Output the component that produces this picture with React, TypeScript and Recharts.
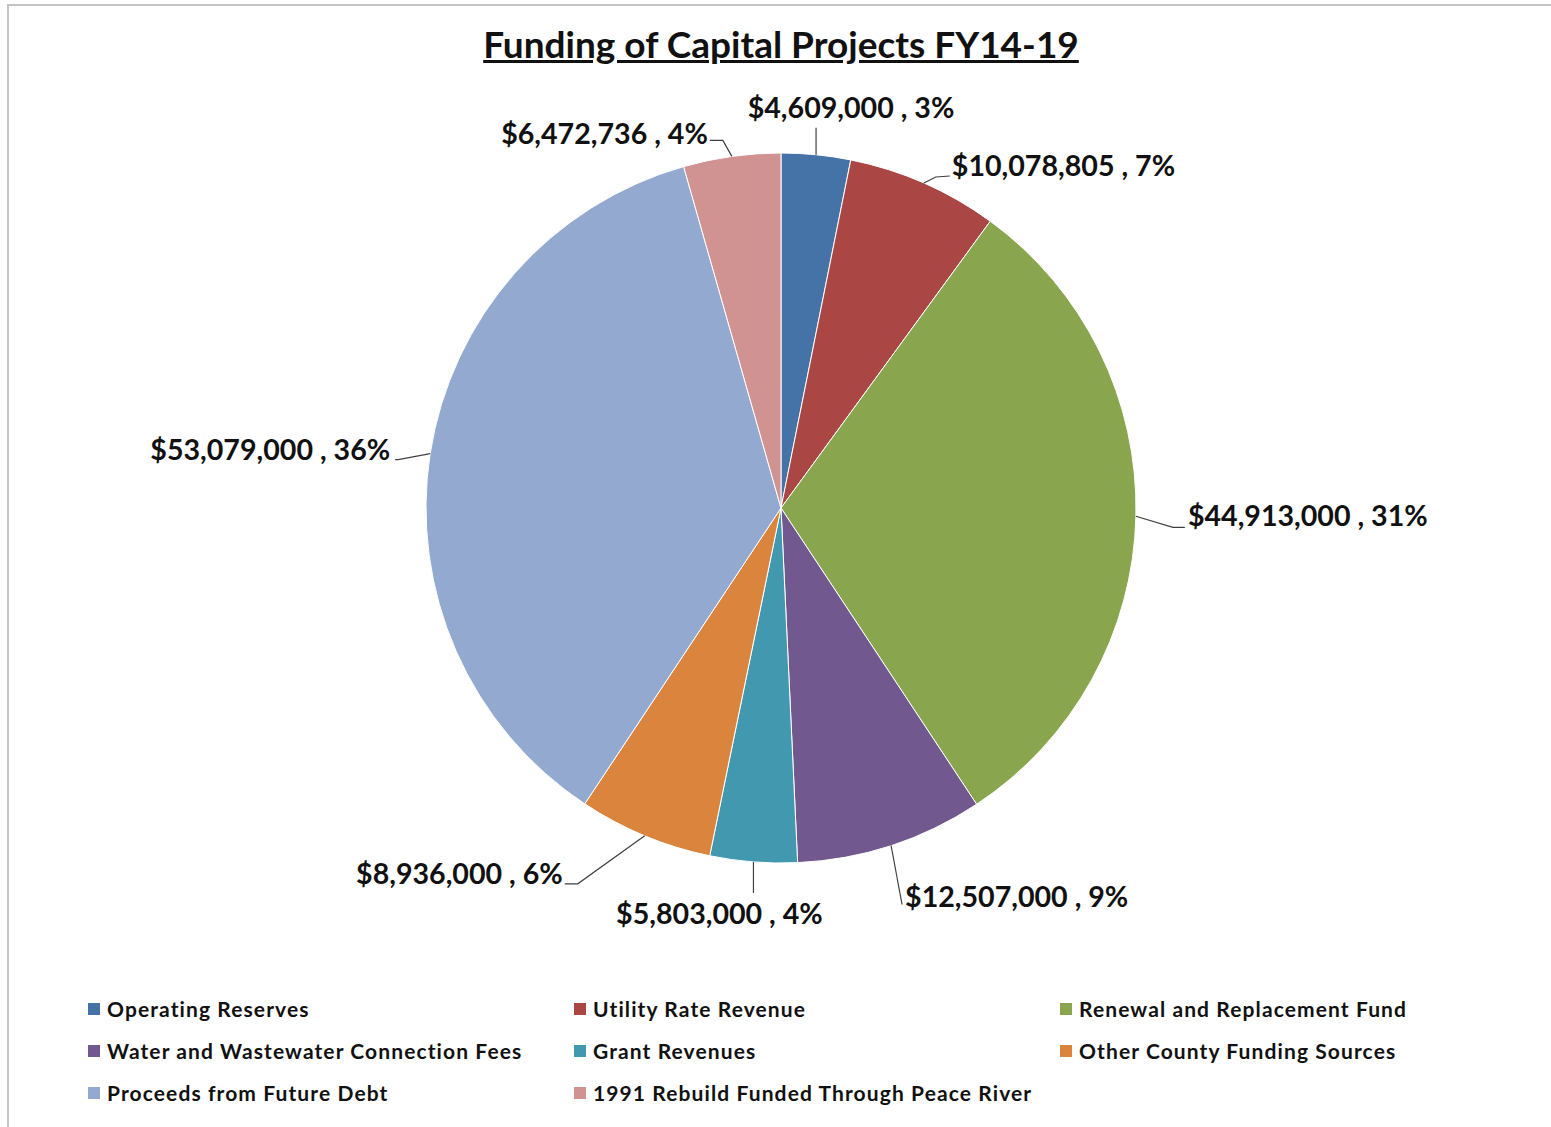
import { PieChart, Pie, Cell, Legend } from "recharts";

const categories = [
  "Operating Reserves",
  "Utility Rate Revenue",
  "Renewal and Replacement Fund",
  "Water and Wastewater Connection Fees",
  "Grant Revenues",
  "Other County Funding Sources",
  "Proceeds from Future Debt",
  "1991 Rebuild Funded Through Peace River",
];

const amounts = [4609000, 10078805, 44913000, 12507000, 5803000, 8936000, 53079000, 6472736];

const colors = ["#4572A7", "#AA4643", "#89A54E", "#71588F", "#4198AF", "#DB843D", "#93A9CF", "#D19392"];

// label placement relative to the slice edge point: leader elbow, leader end, text spot, anchor
const labelLayout = [
  { elbow: [0, -27], end: [0, -27], text: [35, -37], anchor: "middle" },
  { elbow: [12, -6], end: [26, -7], text: [28, -7], anchor: "start" },
  { elbow: [37, 11], end: [49, 11], text: [52, 10], anchor: "start" },
  { elbow: [11, 59], end: [11, 59], text: [14, 61], anchor: "start" },
  { elbow: [0, 31], end: [0, 31], text: [-34, 62], anchor: "middle" },
  { elbow: [-67, 48], end: [-80, 48], text: [-82, 48], anchor: "end" },
  { elbow: [-32, 6], end: [-35, 6], text: [-40, 6], anchor: "end" },
  { elbow: [-9, -16], end: [-22, -16], text: [-24, -12], anchor: "end" },
];

const total = amounts.reduce((a, b) => a + b, 0);
const data = categories.map((name, i) => ({ name, value: amounts[i] }));

const FONT = "Lato, 'Open Sans', sans-serif";
const RAD = Math.PI / 180;

const renderLabel = (props: any) => {
  const { cx, cy, midAngle, outerRadius, index, value } = props;
  const ex = cx + outerRadius * Math.cos(-midAngle * RAD);
  const ey = cy + outerRadius * Math.sin(-midAngle * RAD);
  const l = labelLayout[index];
  const pct = Math.round((value / total) * 100);
  const txt = "$" + value.toLocaleString("en-US") + " , " + pct + "%";
  return (
    <g key={"lbl" + index}>
      <polyline
        points={`${ex},${ey} ${ex + l.elbow[0]},${ey + l.elbow[1]} ${ex + l.end[0]},${ey + l.end[1]}`}
        fill="none"
        stroke="#404040"
        strokeWidth={1.2}
      />
      <text
        x={ex + l.text[0]}
        y={ey + l.text[1]}
        textAnchor={l.anchor}
        fontFamily={FONT}
        fontWeight={700}
        fontSize={28.6}
        fill="#111"
      >
        {txt}
      </text>
    </g>
  );
};

const customLegend = () => (
  <div
    style={{
      display: "grid",
      gridTemplateColumns: "486px 486px 486px",
      rowGap: 17,
      paddingLeft: 88,
    }}
  >
    {categories.map((c, i) => (
      <div key={c} style={{ display: "flex", alignItems: "center", height: 25 }}>
        <span style={{ width: 12, height: 12, background: colors[i], marginRight: 7 }} />
        <span
          style={{
            fontFamily: FONT,
            fontWeight: 700,
            fontSize: 21,
            letterSpacing: 1.1,
            color: "#111",
          }}
        >
          {c}
        </span>
      </div>
    ))}
  </div>
);

export default function App() {
  return (
    <div
      style={{
        position: "absolute",
        left: 0,
        top: 0,
        width: 1551,
        height: 1127,
        overflow: "hidden",
        background: "#fff",
      }}
    >
      <div
        style={{
          position: "absolute",
          left: 7,
          top: 4,
          width: 1600,
          height: 1200,
          borderLeft: "2px solid #c4c4c4",
          borderTop: "2px solid #c4c4c4",
        }}
      />
      <div
        style={{
          position: "absolute",
          left: 0,
          width: 1562,
          top: 21,
          textAlign: "center",
          fontFamily: FONT,
          fontWeight: 700,
          fontSize: 37,
          textDecoration: "underline",
          color: "#111",
        }}
      >
        Funding of Capital Projects FY14-19
      </div>
      <PieChart width={1551} height={1127} style={{ position: "absolute", left: 0, top: 0 }}>
        <Pie
          data={data}
          dataKey="value"
          nameKey="name"
          cx={776}
          cy={503}
          outerRadius={355}
          startAngle={90}
          endAngle={-270}
          stroke="#ffffff"
          strokeWidth={1}
          label={renderLabel}
          labelLine={false}
          isAnimationActive={false}
        >
          {data.map((d, i) => (
            <Cell key={d.name} fill={colors[i]} />
          ))}
        </Pie>
        <Legend
          content={customLegend}
          layout="horizontal"
          verticalAlign="bottom"
          wrapperStyle={{ position: "absolute", left: 0, top: 996, width: 1551 }}
        />
      </PieChart>
    </div>
  );
}
